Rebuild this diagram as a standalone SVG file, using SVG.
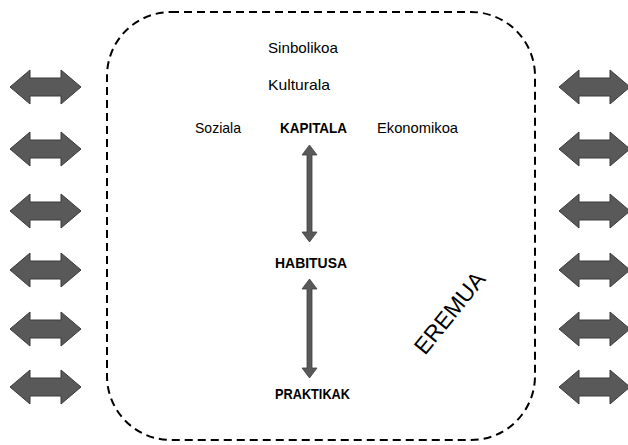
<svg xmlns="http://www.w3.org/2000/svg" width="628" height="445" viewBox="0 0 628 445">
<defs>
<style>
.t{font-family:"Liberation Sans",Arial,sans-serif;font-size:15px;fill:#000}
.b{font-weight:bold;font-size:15px}
.ha{fill:#595959;stroke:#3a3a3a;stroke-width:1}
.va{fill:#595959;stroke:#404040;stroke-width:0.8}
</style>
<path id="harr" d="M0,0 L20,-17 L20,-9 L51,-9 L51,-17 L71,0 L51,17 L51,9 L20,9 L20,17 Z"/>
</defs>
<rect x="0" y="0" width="628" height="445" fill="#fff"/>
<g id="field">
<rect x="107" y="12" width="428" height="428" rx="64" ry="64" fill="none" stroke="#000" stroke-width="2" stroke-dasharray="8,5"/>
<text class="t" transform="translate(451,314) rotate(-51)" text-anchor="middle" dominant-baseline="middle" style="font-size:23px" textLength="98" lengthAdjust="spacingAndGlyphs">EREMUA</text>
</g>
<g id="left-arrows" class="ha">
<use href="#harr" x="10" y="87"/>
<use href="#harr" x="10" y="149"/>
<use href="#harr" x="10" y="211"/>
<use href="#harr" x="10" y="270"/>
<use href="#harr" x="10" y="329"/>
<use href="#harr" x="10" y="387"/>
</g>
<g id="right-arrows" class="ha">
<use href="#harr" x="559" y="87"/>
<use href="#harr" x="559" y="149"/>
<use href="#harr" x="559" y="211"/>
<use href="#harr" x="559" y="270"/>
<use href="#harr" x="559" y="329"/>
<use href="#harr" x="559" y="387"/>
</g>
<g id="sinbolikoa"><text class="t" x="268" y="53" textLength="70" lengthAdjust="spacingAndGlyphs">Sinbolikoa</text></g>
<g id="kulturala"><text class="t" x="268" y="90" textLength="62" lengthAdjust="spacingAndGlyphs">Kulturala</text></g>
<g id="soziala"><text class="t" x="195" y="133" textLength="46" lengthAdjust="spacingAndGlyphs">Soziala</text></g>
<g id="kapitala"><text class="t b" x="280" y="133" textLength="67" lengthAdjust="spacingAndGlyphs">KAPITALA</text></g>
<g id="ekonomikoa"><text class="t" x="377" y="133" textLength="81" lengthAdjust="spacingAndGlyphs">Ekonomikoa</text></g>
<g id="habitusa"><text class="t b" x="275" y="268" textLength="72" lengthAdjust="spacingAndGlyphs">HABITUSA</text></g>
<g id="praktikak"><text class="t b" x="275" y="399" textLength="75" lengthAdjust="spacingAndGlyphs">PRAKTIKAK</text></g>
<g id="connectors" class="va">
<path d="M309.5,145 L317,155 L312,155 L312,232 L317,232 L309.5,242 L302,232 L307,232 L307,155 L302,155 Z"/>
<path d="M309.5,279 L317,289 L312,289 L312,368 L317,368 L309.5,378 L302,368 L307,368 L307,289 L302,289 Z"/>
</g>
</svg>
